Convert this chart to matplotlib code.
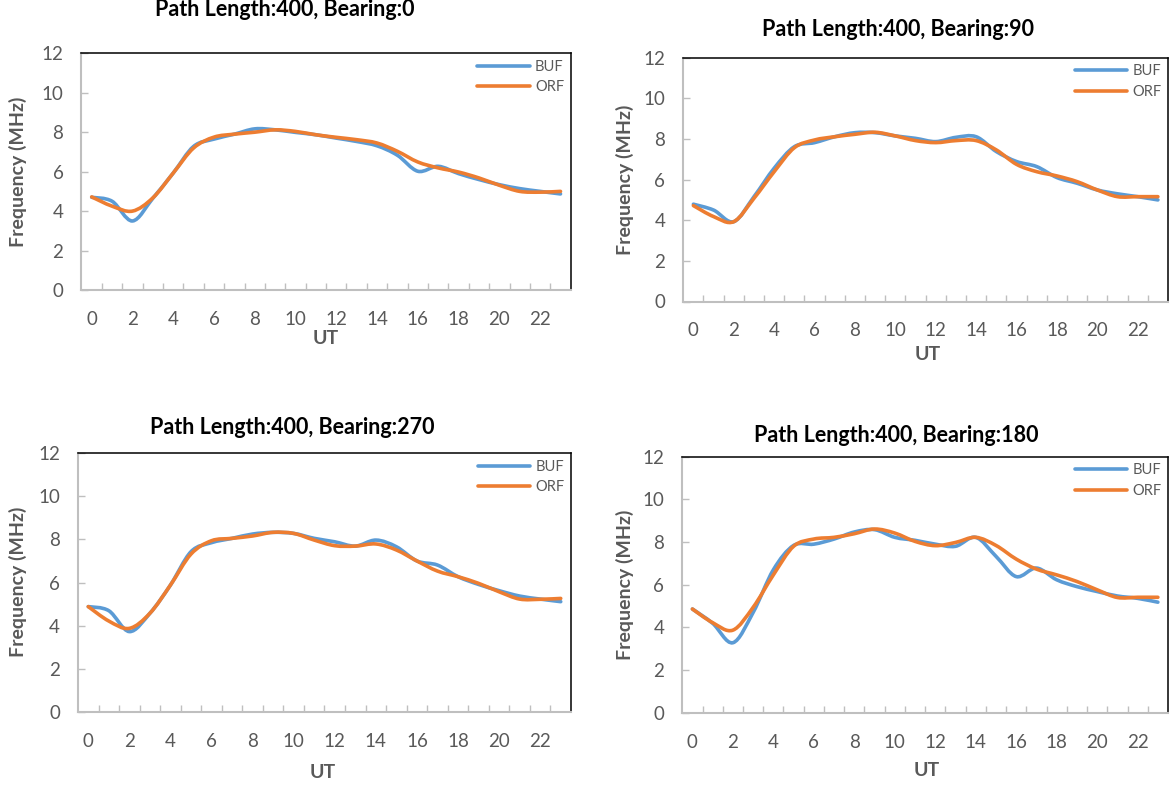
import matplotlib.pyplot as plt
from matplotlib.path import Path
from matplotlib.patches import PathPatch
from matplotlib.lines import Line2D

plt.rcParams['font.family'] = ['Lato', 'DejaVu Sans']

hours = list(range(24))

# Bearing 0
buf_0 = [4.7, 4.5, 3.5, 4.65, 5.93, 7.28, 7.65, 7.9, 8.17, 8.12, 7.99, 7.87,
         7.7, 7.53, 7.31, 6.83, 6.02, 6.27, 5.9, 5.6, 5.34, 5.14, 5.0, 4.87]
orf_0 = [4.72, 4.25, 4.0, 4.67, 5.93, 7.2, 7.75, 7.9, 8.0, 8.12, 8.04, 7.87,
         7.74, 7.62, 7.45, 7.03, 6.49, 6.19, 5.98, 5.68, 5.31, 5.0, 4.96, 5.0]

# Bearing 90
buf_90 = [4.79, 4.5, 3.93, 5.16, 6.56, 7.62, 7.82, 8.11, 8.31, 8.31, 8.15, 8.03,
          7.87, 8.08, 8.11, 7.38, 6.89, 6.64, 6.1, 5.82, 5.49, 5.3, 5.16, 5.0]
orf_90 = [4.72, 4.18, 3.93, 5.08, 6.39, 7.57, 7.95, 8.11, 8.23, 8.33, 8.15, 7.92,
          7.82, 7.92, 7.92, 7.46, 6.75, 6.39, 6.18, 5.9, 5.49, 5.16, 5.16, 5.16]

# Bearing 270
buf_270 = [4.88, 4.69, 3.72, 4.57, 5.88, 7.43, 7.85, 8.05, 8.25, 8.33, 8.28, 8.05,
           7.89, 7.69, 7.97, 7.66, 7.0, 6.81, 6.27, 5.91, 5.62, 5.37, 5.23, 5.11]
orf_270 = [4.88, 4.21, 3.87, 4.57, 5.88, 7.32, 7.94, 8.05, 8.16, 8.33, 8.28, 7.97,
           7.71, 7.69, 7.79, 7.51, 7.0, 6.53, 6.27, 5.96, 5.57, 5.23, 5.22, 5.26]

# Bearing 180
buf_180 = [4.86, 4.19, 3.28, 4.7, 6.7, 7.84, 7.9, 8.14, 8.47, 8.58, 8.22, 8.08,
           7.9, 7.8, 8.22, 7.33, 6.38, 6.78, 6.23, 5.91, 5.68, 5.47, 5.36, 5.18]
orf_180 = [4.86, 4.22, 3.87, 4.94, 6.46, 7.8, 8.14, 8.22, 8.39, 8.61, 8.42, 8.03,
           7.83, 7.98, 8.22, 7.84, 7.2, 6.73, 6.46, 6.15, 5.76, 5.4, 5.41, 5.41]

BLUE = '#5B9BD5'
ORANGE = '#ED7D31'
GRAY_TXT = '#595959'
GRAY_AX = '#BFBFBF'


def smooth_path(x, y):
    # Excel style smoothed line: bezier segments through every point
    n = len(x)
    verts = [(x[0], y[0])]
    codes = [Path.MOVETO]
    for i in range(n - 1):
        x0, y0 = x[max(i - 1, 0)], y[max(i - 1, 0)]
        x3, y3 = x[min(i + 2, n - 1)], y[min(i + 2, n - 1)]
        c1 = (x[i] + (x[i + 1] - x0) / 6, y[i] + (y[i + 1] - y0) / 6)
        c2 = (x[i + 1] - (x3 - x[i]) / 6, y[i + 1] - (y3 - y[i]) / 6)
        verts += [c1, c2, (x[i + 1], y[i + 1])]
        codes += [Path.CURVE4] * 3
    return Path(verts, codes)


def draw_panel(rect, buf, orf, title, title_xy, ylab_xy, ut_xy):
    ax = fig.add_axes(rect)
    for vals, col in [(buf, BLUE), (orf, ORANGE)]:
        ax.add_patch(PathPatch(smooth_path(hours, vals), fill=False, edgecolor=col,
                               lw=2.6, capstyle='round', joinstyle='round'))
    ax.set_xlim(-0.5, 23.5)
    ax.set_ylim(0, 12)
    ax.set_xticks(range(0, 23, 2))
    ax.set_xticks([h + 0.5 for h in range(23)], minor=True)
    ax.set_yticks(range(0, 13, 2))
    ax.tick_params(axis='x', which='major', length=0, pad=15, labelsize=13.5,
                   labelcolor=GRAY_TXT)
    ax.tick_params(axis='x', which='minor', direction='in', length=5, width=1,
                   color=GRAY_AX)
    ax.tick_params(axis='y', direction='in', length=5, width=1, color=GRAY_AX,
                   pad=13, labelsize=13.5, labelcolor=GRAY_TXT)
    for s in ['left', 'bottom']:
        ax.spines[s].set_color(GRAY_AX)
        ax.spines[s].set_linewidth(1.5)
    for s in ['top', 'right']:
        ax.spines[s].set_color('black')
        ax.spines[s].set_linewidth(1.1)
    handles = [Line2D([], [], color=BLUE, lw=2.6, solid_capstyle='round'),
               Line2D([], [], color=ORANGE, lw=2.6, solid_capstyle='round')]
    leg = ax.legend(handles, ['BUF', 'ORF'], loc='upper right', frameon=False,
                    fontsize=10.5, handlelength=3.6, handletextpad=0.35,
                    labelspacing=0.45, borderaxespad=0.15, borderpad=0.3)
    for t in leg.get_texts():
        t.set_color(GRAY_TXT)
    fig.text(title_xy[0] / W, 1 - title_xy[1] / H, title, ha='center', va='center',
             fontsize=15.5, fontweight='bold', color='black')
    fig.text(ylab_xy[0] / W, 1 - ylab_xy[1] / H, 'Frequency (MHz)', rotation=90,
             ha='center', va='center', fontsize=14, fontweight='bold', color=GRAY_TXT)
    fig.text(ut_xy[0] / W, 1 - ut_xy[1] / H, 'UT', ha='center', va='center',
             fontsize=14, fontweight='bold', color=GRAY_TXT)
    return ax


W, H = 1172, 785
fig = plt.figure(figsize=(W / 100, H / 100), dpi=100)


def px_rect(left, right, top, bottom):
    return [left / W, 1 - bottom / H, (right - left) / W, (bottom - top) / H]


draw_panel(px_rect(81.5, 570.7, 53.3, 290), buf_0, orf_0,
           'Path Length:400, Bearing:0', (285, 9), (18, 172), (326, 339))
draw_panel(px_rect(683.3, 1168, 57.7, 301.5), buf_90, orf_90,
           'Path Length:400, Bearing:90', (898, 29), (625, 180), (928, 355))
draw_panel(px_rect(78, 571, 453.3, 711.7), buf_270, orf_270,
           'Path Length:400, Bearing:270', (292, 428), (18, 582), (323, 772))
draw_panel(px_rect(682.3, 1168, 456.7, 712.7), buf_180, orf_180,
           'Path Length:400, Bearing:180', (896, 435), (625, 585), (927, 771))

fig.savefig('out.png', dpi=100)
